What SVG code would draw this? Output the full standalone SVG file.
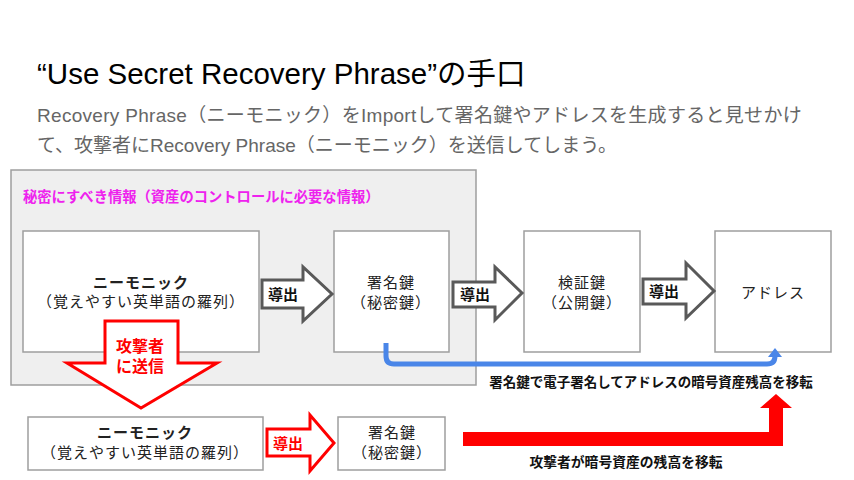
<svg xmlns="http://www.w3.org/2000/svg" width="854" height="480" viewBox="0 0 854 480">
<style>
text{font-family:"Liberation Sans","Noto Sans CJK JP",sans-serif;}
.box{fill:#ffffff;stroke:#9e9e9e;stroke-width:1.5;}
.lbl{font-size:15px;fill:#222;text-anchor:middle;letter-spacing:1px;}
.b{font-weight:bold;}
.garrow{fill:#ffffff;stroke:#595959;stroke-width:3;stroke-linejoin:miter;}
.rarrow{fill:#ffffff;stroke:#ff0000;stroke-width:3;stroke-linejoin:miter;}
.dlbl{font-size:15px;font-weight:bold;fill:#111;text-anchor:middle;}
</style>
<rect width="854" height="480" fill="#ffffff"/>
<text x="37" y="84" font-size="29.5" fill="#000">“Use Secret Recovery Phrase”の手口</text>
<text x="37" y="122" font-size="19" fill="#666" letter-spacing="0.3">Recovery Phrase（ニーモニック）をImportして署名鍵やアドレスを生成すると見せかけ</text>
<text x="37" y="152" font-size="19" fill="#666">て、攻撃者にRecovery Phrase（ニーモニック）を送信してしまう。</text>

<g id="secret-panel">
<rect x="11" y="170" width="465" height="215" fill="#efefef" stroke="#9e9e9e" stroke-width="1.5"/>
<text x="23" y="202" font-size="14.3" font-weight="bold" fill="#ee22ee">秘密にすべき情報（資産のコントロールに必要な情報）</text>
</g>

<g id="mnemonic">
<rect class="box" x="23" y="231" width="236" height="121"/>
<text class="lbl b" x="141" y="288">ニーモニック</text>
<text class="lbl" x="141" y="307">（覚えやすい英単語の羅列）</text>
</g>

<g id="signing-key">
<rect class="box" x="334" y="231" width="115" height="121"/>
<text class="lbl" x="391" y="288" letter-spacing="2">署名鍵</text>
<text class="lbl" x="391" y="308">（秘密鍵）</text>
</g>

<g id="verify-key">
<rect class="box" x="524" y="231" width="116" height="121"/>
<text class="lbl" x="582" y="288" letter-spacing="2">検証鍵</text>
<text class="lbl" x="582" y="308">（公開鍵）</text>
</g>

<g id="address">
<rect class="box" x="715" y="231" width="116" height="121"/>
<text class="lbl" x="773" y="298">アドレス</text>
</g>

<g id="mnemonic-2">
<rect class="box" x="28" y="417" width="235" height="53"/>
<text class="lbl b" x="145" y="438">ニーモニック</text>
<text class="lbl" x="145" y="458">（覚えやすい英単語の羅列）</text>
</g>

<g id="signing-key-2">
<rect class="box" x="338" y="417" width="107" height="53"/>
<text class="lbl" x="392" y="438" letter-spacing="2">署名鍵</text>
<text class="lbl" x="392" y="458">（秘密鍵）</text>
</g>

<g id="connectors">
<polygon class="garrow" points="262,280 303,280 303,267 332,294 303,321 303,308 262,308"/>
<text class="dlbl" x="283" y="300">導出</text>
<polygon class="garrow" points="453,282 495,282 495,267 522,293 495,320 495,307 453,307"/>
<text class="dlbl" x="475" y="300">導出</text>
<polygon class="garrow" points="643,279 686,279 686,263 714,291 686,318 686,304 643,304"/>
<text class="dlbl" x="664" y="297">導出</text>

<path d="M386,343 V356 Q386,364 394,364 H767 Q775,364 775,356 V355" fill="none" stroke="#4a86e8" stroke-width="5"/>
<polygon points="768,357 775,348 782,357" fill="#4a86e8"/>
<text x="651" y="387" font-size="13.5" font-weight="bold" fill="#111" text-anchor="middle">署名鍵で電子署名してアドレスの暗号資産残高を移転</text>

<polygon class="rarrow" points="105,321 178,321 178,363 217,363 141,408 67,363 105,363"/>
<text x="140" y="352" font-size="16" font-weight="bold" fill="#ff0000" text-anchor="middle">攻撃者</text>
<text x="140" y="372" font-size="16" font-weight="bold" fill="#ff0000" text-anchor="middle">に送信</text>

<polygon class="rarrow" points="267,429 310,429 310,415 334,443 310,471 310,456 267,456"/>
<text x="288" y="449" font-size="15" font-weight="bold" fill="#ff0000" text-anchor="middle">導出</text>

<polygon points="463,432 769,432 769,408 760,408 776,394 792,408 783,408 783,446 463,446" fill="#ff0000"/>
<text x="626" y="467" font-size="13.8" font-weight="bold" fill="#111" text-anchor="middle">攻撃者が暗号資産の残高を移転</text>
</g>
</svg>
